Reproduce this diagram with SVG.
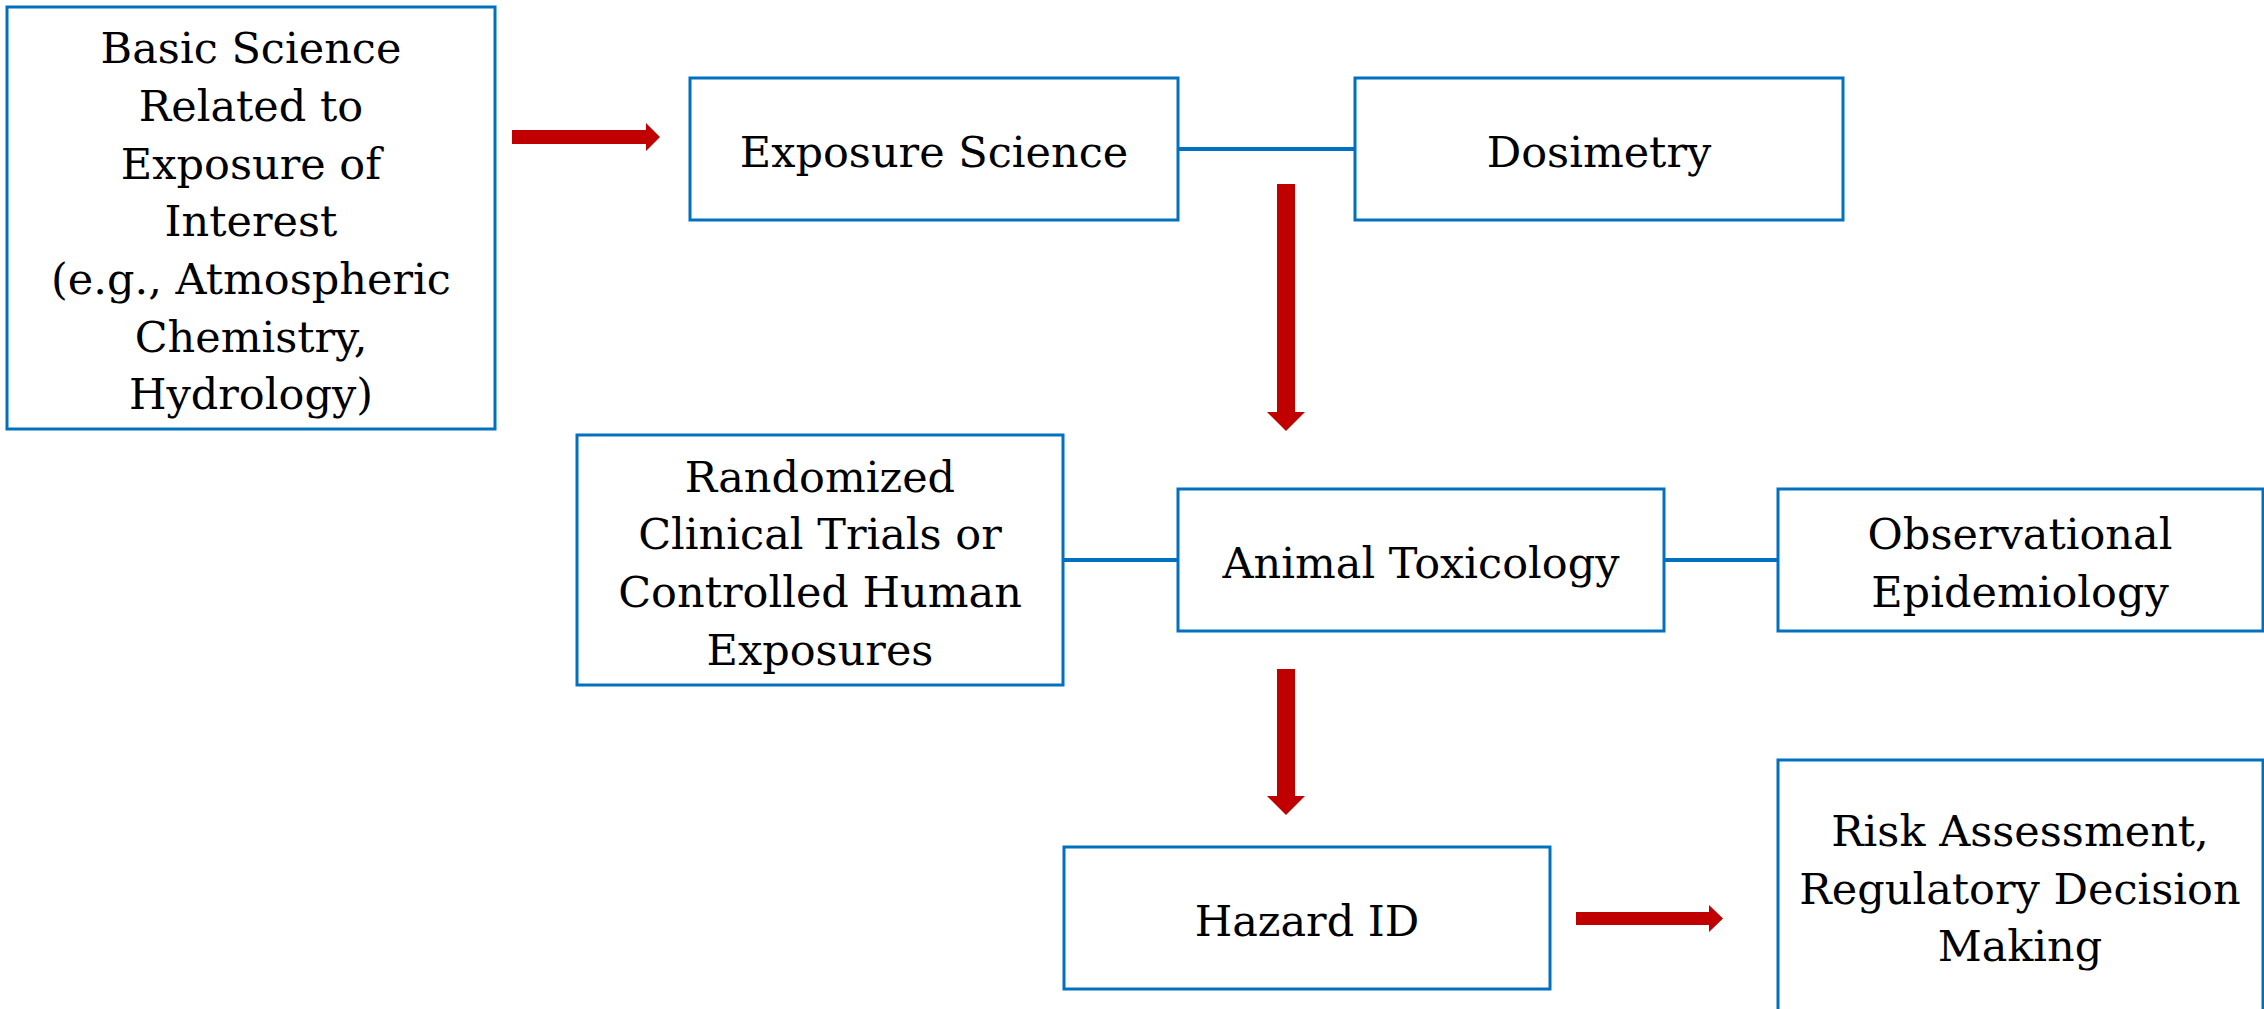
<svg xmlns="http://www.w3.org/2000/svg" width="2264" height="1009" viewBox="0 0 2264 1009">
<style>
.box{fill:#fff;stroke:#0070C0;stroke-width:3}
.lbl{font-family:"DejaVu Serif","Liberation Serif",serif;font-size:43px;fill:#000;text-anchor:middle}
.link{stroke:#0070C0;stroke-width:4;fill:none}
.arr{fill:#C00000}
</style>
<rect width="2264" height="1009" fill="#fff"/>
<g id="connectors">
<line class="link" x1="1178" y1="149" x2="1355" y2="149"/>
<line class="link" x1="1063" y1="560" x2="1178" y2="560"/>
<line class="link" x1="1664" y1="560" x2="1778" y2="560"/>
<polygon class="arr" points="512,130 646,130 646,123 660,137 646,151 646,144 512,144"/>
<polygon class="arr" points="1576,912 1709,912 1709,905 1723,918.5 1709,932 1709,925 1576,925"/>
<polygon class="arr" points="1277,184 1295,184 1295,412 1305,412 1286,431 1267,412 1277,412"/>
<polygon class="arr" points="1277,669 1295,669 1295,796 1305,796 1286,815 1267,796 1277,796"/>
</g>
<g id="basic-science">
<rect class="box" x="7" y="7" width="488" height="422"/>
<text class="lbl" x="251" y="63">Basic Science</text>
<text class="lbl" x="251" y="121">Related to</text>
<text class="lbl" x="251" y="179">Exposure of</text>
<text class="lbl" x="251" y="236">Interest</text>
<text class="lbl" x="251" y="294">(e.g., Atmospheric</text>
<text class="lbl" x="251" y="352">Chemistry,</text>
<text class="lbl" x="251" y="409">Hydrology)</text>
</g>
<g id="exposure-science">
<rect class="box" x="690" y="78" width="488" height="142"/>
<text class="lbl" x="934" y="167">Exposure Science</text>
</g>
<g id="dosimetry">
<rect class="box" x="1355" y="78" width="488" height="142"/>
<text class="lbl" x="1599" y="167">Dosimetry</text>
</g>
<g id="randomized">
<rect class="box" x="577" y="435" width="486" height="250"/>
<text class="lbl" x="820" y="492">Randomized</text>
<text class="lbl" x="820" y="549">Clinical Trials or</text>
<text class="lbl" x="820" y="607">Controlled Human</text>
<text class="lbl" x="820" y="665">Exposures</text>
</g>
<g id="animal-toxicology">
<rect class="box" x="1178" y="489" width="486" height="142"/>
<text class="lbl" x="1421" y="578">Animal Toxicology</text>
</g>
<g id="observational-epidemiology">
<rect class="box" x="1778" y="489" width="485" height="142"/>
<text class="lbl" x="2020" y="549">Observational</text>
<text class="lbl" x="2020" y="607">Epidemiology</text>
</g>
<g id="hazard-id">
<rect class="box" x="1064" y="847" width="486" height="142"/>
<text class="lbl" x="1307" y="936">Hazard ID</text>
</g>
<g id="risk-assessment">
<rect class="box" x="1778" y="760" width="485" height="260"/>
<text class="lbl" x="2020" y="846">Risk Assessment,</text>
<text class="lbl" x="2020" y="904">Regulatory Decision</text>
<text class="lbl" x="2020" y="961">Making</text>
</g>
</svg>
